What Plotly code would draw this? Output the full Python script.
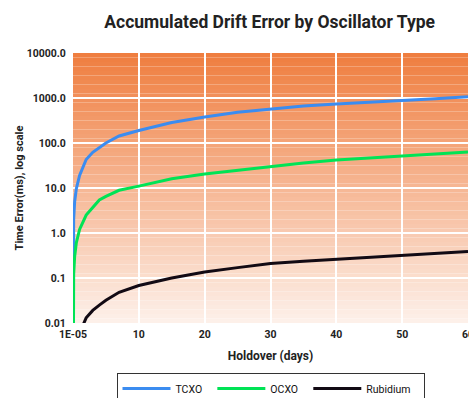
import plotly.graph_objects as go

# ---- data ----
days = [1e-5, 0.1, 0.25, 0.5, 1, 2, 3, 4, 5, 7, 10, 15, 20, 25, 30, 35, 40, 45, 50, 55, 60]
tcxo = [0.0002, 2, 5, 9.5, 19, 43, 62, 80, 100, 143, 190, 285, 380, 480, 570, 660, 740, 800, 870, 960, 1060]
ocxo = [0.00001, 0.12, 0.3, 0.6, 1.2, 2.5, 3.7, 5.4, 6.5, 8.9, 11, 16, 20.5, 25, 30, 36, 42, 47, 52, 57, 63]
rubidium = [0.00000007, 0.0006, 0.0015, 0.003, 0.006, 0.013, 0.019, 0.025, 0.032, 0.048, 0.068, 0.1,
            0.136, 0.17, 0.21, 0.235, 0.26, 0.295, 0.33, 0.36, 0.39]

x_tickvals = [1e-5, 10, 20, 30, 40, 50, 60]
x_ticktext = ["1E-05", "10", "20", "30", "40", "50", "60"]
y_tickvals = [0.01, 0.1, 1, 10, 100, 1000, 10000]
y_ticktext = ["0.01", "0.1", "1.0", "10.0", "100.0", "1000.0", "10000.0"]

NB = "\u00a0"
series = [("TCXO", NB * 2, tcxo, "#3b8cf0"),
          ("OCXO", NB * 2, ocxo, "#00e355"),
          ("Rubidium", NB * 3, rubidium, "#120a14")]

fig = go.Figure()
for name, pad, vals, col in series:
    fig.add_trace(go.Scatter(x=days, y=vals, mode="lines", name=name + pad,
                             line=dict(color=col, width=3)))

# vertical gradient background (orange top -> pale bottom)
n = 60
top = (239, 126, 64)
bot = (253, 240, 233)
shapes = []
for i in range(n):
    t = i / (n - 1)
    c = tuple(round(top[k] + (bot[k] - top[k]) * t) for k in range(3))
    y1 = 1 - i / n
    y0 = 1 - (i + 1) / n
    shapes.append(dict(type="rect", xref="x domain", yref="y domain", x0=0, x1=1,
                       y0=y0, y1=y1, fillcolor="rgb(%d,%d,%d)" % c,
                       line=dict(width=0), layer="below"))

font_fam = "Roboto, sans-serif"
fig.update_layout(
    width=469, height=398,
    margin=dict(l=73, r=1, t=53, b=75),
    paper_bgcolor="white", plot_bgcolor="white",
    shapes=shapes,
    title=dict(text="<b>Accumulated Drift Error by Oscillator Type</b>", x=0.575, xanchor="center",
               y=1 - 22 / 398, yanchor="middle",
               font=dict(family=font_fam, size=17.5, color="#222222")),
    font=dict(family=font_fam, size=10, color="#222222"),
    showlegend=True,
    legend=dict(orientation="h", x=0.5, xanchor="center", yref="container",
                y=(398 - 373) / 398, yanchor="top",
                bordercolor="#333333", borderwidth=1, bgcolor="white",
                font=dict(family=font_fam, size=10.5, color="#111111"),
                itemwidth=48),
    xaxis=dict(range=[0, 60], tickvals=x_tickvals, ticktext=x_ticktext, automargin=False,
               ticklabeloverflow="allow",
               showgrid=True, gridcolor="white", gridwidth=1.5, zeroline=False,
               showline=False, ticks="outside", ticklen=1, tickcolor="rgba(0,0,0,0)",
               tickfont=dict(family=font_fam, size=10.5, color="#222222", weight="bold"),
               title=dict(text="Holdover (days)", standoff=12,
                          font=dict(family=font_fam, size=12, color="#222222", weight="bold"))),
    yaxis=dict(type="log", range=[-2, 4], tickvals=y_tickvals, ticktext=y_ticktext, automargin=False,
               showgrid=True, gridcolor="white", gridwidth=1.5, zeroline=False,
               showline=False, ticks="outside", ticklen=4, tickcolor="rgba(0,0,0,0)",
               tickfont=dict(family=font_fam, size=10.5, color="#222222", weight="bold"),
               title=dict(text="Time Error(ms), log scale", standoff=0,
                          font=dict(family=font_fam, size=11, color="#222222", weight="bold"))),
)

fig.write_html("out.html", config={"displayModeBar": False},
               post_script="document.body.style.margin='0';")
